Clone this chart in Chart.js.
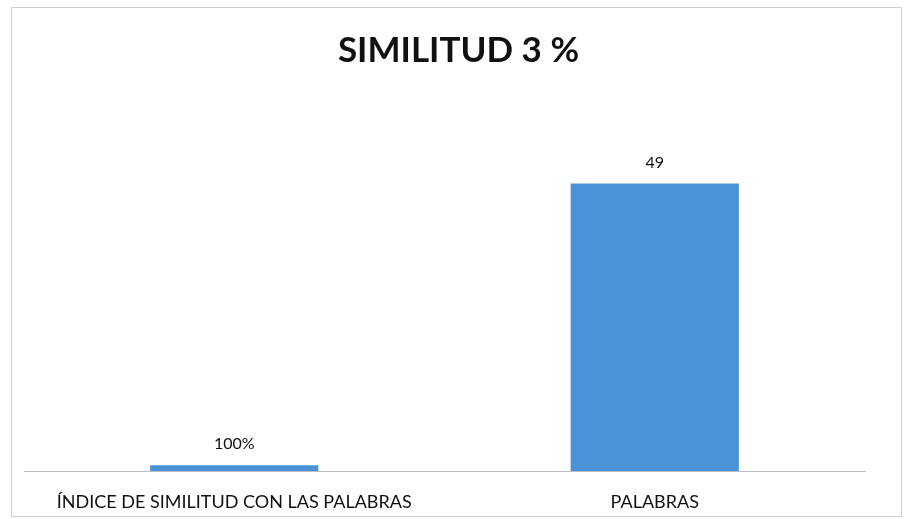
<!DOCTYPE html>
<html>
<head>
<meta charset="utf-8">
<script src="https://cdn.jsdelivr.net/npm/chart.js@4/dist/chart.umd.min.js"></script>
<style>
  html, body { margin: 0; padding: 0; background: #fff; }
  #box {
    position: absolute; left: 11px; top: 7px;
    width: 889px; height: 508px;
    border: 1px solid #cfcfcf;
  }
</style>
</head>
<body>
<div id="box"><canvas id="similitud"></canvas></div>
<script>
var categories = ["ÍNDICE DE SIMILITUD CON LAS PALABRAS", "PALABRAS"];
var values = [1, 49];
var valueLabels = ["100%", "49"];
var chartTitle = "SIMILITUD 3 %";

// title centred on the whole box, bar labels just above each bar
var textLayer = {
    id: 'textLayer',
    afterDatasetsDraw: function(chart) {
        var ctx = chart.ctx;
        var meta = chart.getDatasetMeta(0);
        ctx.save();
        ctx.fillStyle = '#111';
        ctx.textAlign = 'center';
        ctx.textBaseline = 'middle';
        ctx.font = 'bold 35px Lato, "Open Sans", sans-serif';
        ctx.fillText(chartTitle, chart.width / 2 + 2, 43);
        ctx.font = '16px Lato, "Open Sans", sans-serif';
        meta.data.forEach(function(bar, i) {
            ctx.fillText(valueLabels[i], bar.x, bar.y - 21);
        });
        ctx.restore();
    }
};

var canvas = document.getElementById("similitud");
var chart = new Chart(canvas, {
    type: 'bar',
    data: {
        labels: categories,
        datasets: [{
            data: values,
            backgroundColor: "#4a92d6",
            borderWidth: 0,
            barPercentage: 0.4,
            categoryPercentage: 1
        }]
    },
    options: {
        responsive: true,
        maintainAspectRatio: false,
        animation: false,
        layout: { padding: { left: 12, right: 36, top: 111, bottom: 0 } },
        plugins: {
            legend: { display: false },
            tooltip: { enabled: false },
            title: { display: false }
        },
        scales: {
            y: { display: false, min: 0, max: 60 },
            x: {
                grid: { display: false, drawTicks: false },
                border: { display: true, color: '#bdbdbd', width: 1 },
                ticks: {
                    color: '#111',
                    padding: 20,
                    maxRotation: 0,
                    font: { family: 'Lato, "Open Sans", sans-serif', size: 18 }
                },
                afterFit: function(scale) { scale.height = 45; }
            }
        }
    },
    plugins: [textLayer]
});
</script>
</body>
</html>
